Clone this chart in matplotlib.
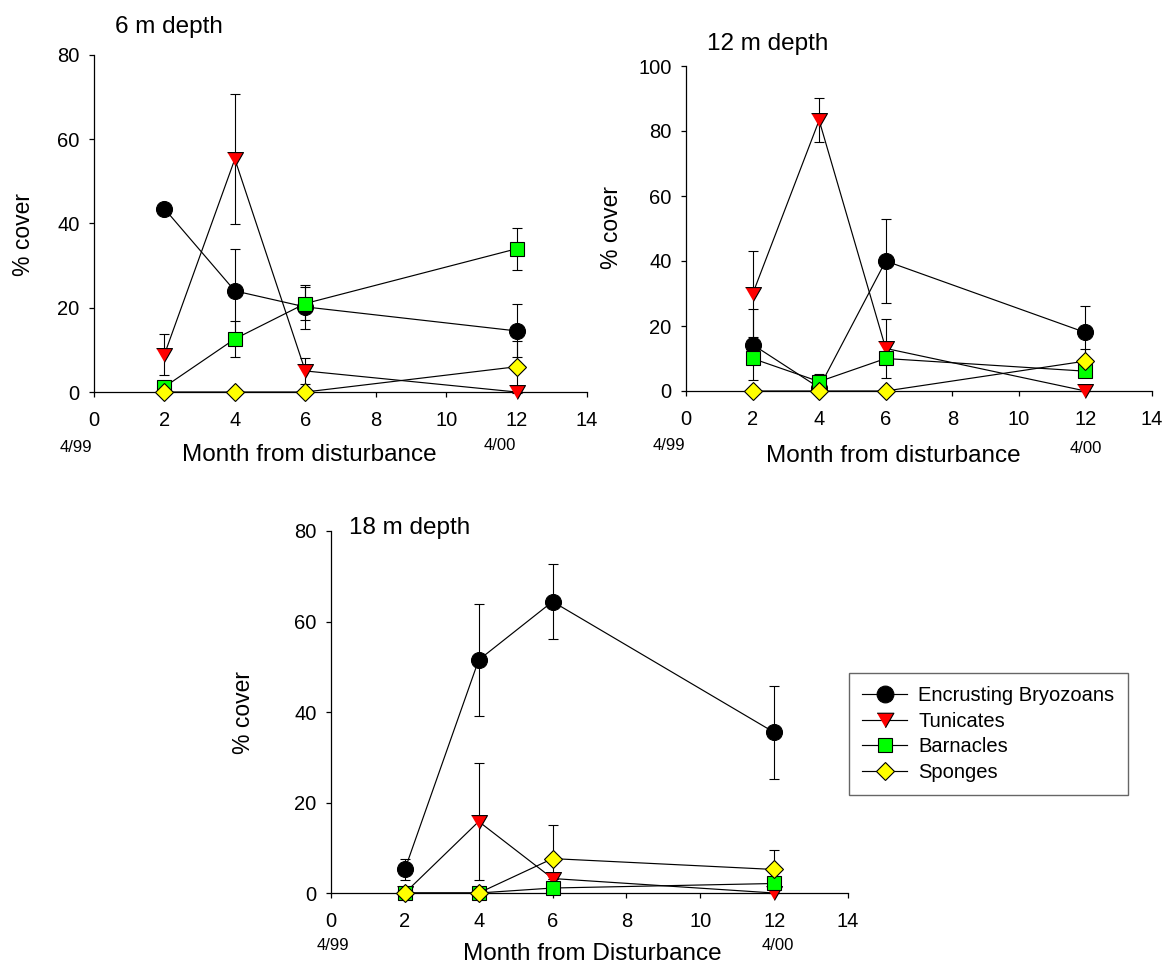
import matplotlib
matplotlib.use("Agg")
import matplotlib.pyplot as plt

plt.rcParams["font.family"] = ["Liberation Sans", "DejaVu Sans"]

W, H = 1164, 963

months = [2, 4, 6, 12]

# 6 m depth
bryozoans_6 = [43.5, 24.0, 20.2, 14.5]
bryozoans_6_se = [0.0, 10.0, 5.3, 6.3]
tunicates_6 = [8.9, 55.3, 5.0, 0.0]
tunicates_6_se = [4.8, 15.4, 3.0, 0.0]
barnacles_6 = [1.2, 12.6, 21.0, 34.0]
barnacles_6_se = [0.0, 4.2, 4.0, 5.0]
sponges_6 = [0.0, 0.0, 0.0, 6.0]
sponges_6_se = [0.0, 0.0, 0.0, 6.2]

# 12 m depth
bryozoans_12 = [14.3, 1.0, 40.0, 18.0]
bryozoans_12_se = [11.0, 0.0, 13.0, 8.3]
tunicates_12 = [29.8, 83.3, 13.1, 0.0]
tunicates_12_se = [13.3, 6.8, 9.0, 0.0]
barnacles_12 = [10.0, 2.9, 10.0, 6.1]
barnacles_12_se = [0.0, 2.3, 0.0, 1.3]
sponges_12 = [0.0, 0.0, 0.0, 9.2]
sponges_12_se = [0.0, 0.0, 0.0, 3.6]

# 18 m depth
bryozoans_18 = [5.2, 51.5, 64.4, 35.5]
bryozoans_18_se = [2.3, 12.3, 8.2, 10.3]
tunicates_18 = [0.0, 15.8, 3.2, 0.0]
tunicates_18_se = [0.0, 12.9, 0.0, 0.0]
barnacles_18 = [0.0, 0.0, 1.1, 2.1]
barnacles_18_se = [0.0, 0.0, 0.0, 1.0]
sponges_18 = [0.0, 0.0, 7.6, 5.2]
sponges_18_se = [0.0, 0.0, 7.4, 4.3]

labels = ["Encrusting Bryozoans", "Tunicates", "Barnacles", "Sponges"]

# triangle pointing down, centred on its bounding box
tri = [(-1, 0.866), (1, 0.866), (0, -0.866)]
styles = [
    dict(marker="o", mfc="black", ms=11.5),
    dict(marker=tri, mfc="#ff0000", ms=11.5),
    dict(marker="s", mfc="#00ff00", ms=9.7),
    dict(marker="D", mfc="#ffff00", ms=9.2),
]


def fx(x):
    return x / W


def fy(y):
    return 1 - y / H


def panel(rect, data, ymax):
    ax = fig.add_axes(rect)
    for (vals, err), sty, lab in zip(data, styles, labels):
        ax.errorbar(months, vals, yerr=err, fmt="none", ecolor="black",
                    elinewidth=0.8, capsize=3.6, capthick=0.8, zorder=2,
                    clip_on=False)
        ax.plot(months, vals, color="black", lw=0.85, mec="black", mew=0.8,
                zorder=3, clip_on=False, label=lab, **sty)
    ax.set_xlim(0, 14)
    ax.set_ylim(0, ymax)
    ax.set_xticks(range(0, 15, 2))
    ax.set_yticks(range(0, ymax + 1, 20))
    for s in ["top", "right"]:
        ax.spines[s].set_visible(False)
    for s in ["left", "bottom"]:
        ax.spines[s].set_linewidth(0.9)
    ax.tick_params(direction="out", length=3.4, width=0.9, labelsize=14.5)
    ax.tick_params(axis="x", pad=10.5)
    ax.tick_params(axis="y", pad=7)
    return ax


fig = plt.figure(figsize=(W / 100, H / 100), dpi=100)

ax1 = panel([fx(94), fy(392), fx(587 - 94), (392 - 55) / H],
            [(bryozoans_6, bryozoans_6_se), (tunicates_6, tunicates_6_se),
             (barnacles_6, barnacles_6_se), (sponges_6, sponges_6_se)], 80)
ax2 = panel([fx(686), fy(391), fx(1152 - 686), (391 - 66) / H],
            [(bryozoans_12, bryozoans_12_se), (tunicates_12, tunicates_12_se),
             (barnacles_12, barnacles_12_se), (sponges_12, sponges_12_se)], 100)
ax3 = panel([fx(331), fy(893), fx(848 - 331), (893 - 531) / H],
            [(bryozoans_18, bryozoans_18_se), (tunicates_18, tunicates_18_se),
             (barnacles_18, barnacles_18_se), (sponges_18, sponges_18_se)], 80)

# titles
fig.text(fx(115), fy(27), "6 m depth", fontsize=17.5, va="center")
fig.text(fx(707), fy(44), "12 m depth", fontsize=17.5, va="center")
fig.text(fx(349), fy(528), "18 m depth", fontsize=17.5, va="center")

# y labels
fig.text(fx(23), fy(234), "% cover", fontsize=16.5, rotation=90, ha="center", va="center")
fig.text(fx(612), fy(227), "% cover", fontsize=16.5, rotation=90, ha="center", va="center")
fig.text(fx(244), fy(712), "% cover", fontsize=16.5, rotation=90, ha="center", va="center")

# x labels
fig.text(fx(309), fy(455), "Month from disturbance", fontsize=17.5, ha="center", va="center")
fig.text(fx(893), fy(456), "Month from disturbance", fontsize=17.5, ha="center", va="center")
fig.text(fx(592), fy(954), "Month from Disturbance", fontsize=17.5, ha="center", va="center")

# date marks
for x, y, t in [(76, 447, "4/99"), (500, 446, "4/00"),
                (669, 446, "4/99"), (1086, 448, "4/00"),
                (333, 945, "4/99"), (778, 945, "4/00")]:
    fig.text(fx(x), fy(y), t, fontsize=12, ha="center", va="center")

h, l = ax3.get_legend_handles_labels()
leg = fig.legend(h, l, loc="upper left", bbox_to_anchor=(fx(849), fy(673)),
                 borderaxespad=0, fontsize=14.5, frameon=True, fancybox=False,
                 edgecolor="#404040", handlelength=2.25, handletextpad=0.55,
                 labelspacing=0.33, borderpad=0.65, markerscale=1.05)
leg.get_frame().set_linewidth(1.0)

fig.savefig("out.png", dpi=100)
